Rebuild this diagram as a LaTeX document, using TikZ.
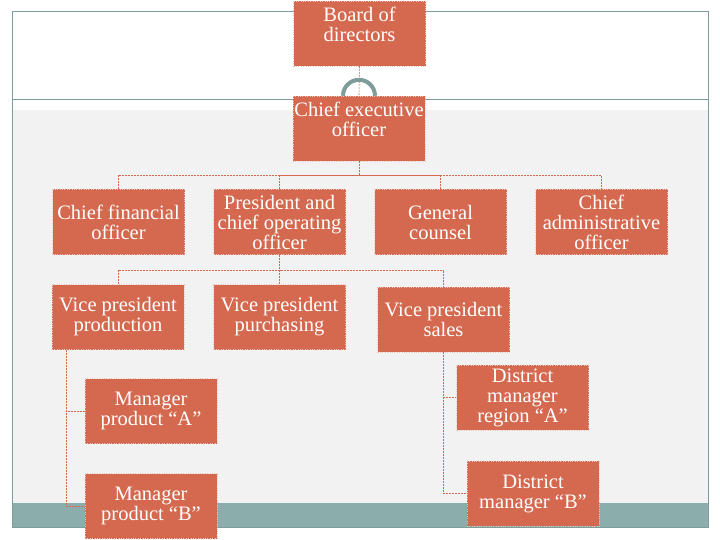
\documentclass[tikz,border=0pt]{standalone}
\usepackage{fontspec}
\setmainfont{Liberation Serif}
\usetikzlibrary{positioning,calc}
\definecolor{boxfill}{HTML}{D5694F}
\definecolor{frameteal}{HTML}{7E9C9A}
\definecolor{bandteal}{HTML}{8BADAB}
\definecolor{panelgray}{HTML}{F2F2F2}

\begin{document}
\begin{tikzpicture}[x=1pt, y=-1pt,
    orgbox/.style={draw=boxfill!40!white, dotted, fill=boxfill, text=white,
      minimum width=132pt, minimum height=65pt, align=center, inner sep=1pt,
      font=\fontsize{20.5}{20}\selectfont},
    topbox/.style={orgbox, text depth=18pt},
    link/.style={draw=boxfill, dash pattern=on 2pt off 1pt, line width=0.6pt}]
    % slide background
    \useasboundingbox (0,0) rectangle (720,540);
    \fill[panelgray] (12,110) rectangle (708,503);
    \fill[bandteal] (12,503) rectangle (708,527);
    \draw[frameteal, line width=1pt] (12,12) rectangle (708,527);
    \draw[frameteal, line width=1pt] (12,100) -- (708,100);

    % boxes
    \node[topbox] (board) at (359.5,33.5) {Board of\\directors};
    \node[topbox] (ceo) at (359,128.5) {Chief executive\\officer};
    \node[orgbox] (cfo) at (118.5,222) {Chief financial\\officer};
    \node[orgbox] (pres) at (279.5,222) {President and\\chief operating\\officer};
    \node[orgbox] (gc) at (440.5,222) {General\\counsel};
    \node[orgbox] (cao) at (601.5,222) {Chief\\administrative\\officer};
    \node[orgbox] (vpprod) at (118,317) {Vice president\\production};
    \node[orgbox] (vppur) at (279.5,317) {Vice president\\purchasing};
    \node[orgbox] (vpsales) at (443.5,319.5) {Vice president\\sales};
    \node[orgbox] (mgra) at (151,411) {Manager\\product “A”};
    \node[orgbox] (mgrb) at (151,506) {Manager\\product “B”};
    \node[orgbox] (dista) at (522.5,397.5) {District\\manager\\region “A”};
    \node[orgbox] (distb) at (533,493.5) {District\\manager “B”};

    % connectors
    \draw[link] (board.south) -- (ceo.north);
    \draw[bandteal!90!black, line width=4pt] ($(ceo.north)+(-16,0)$)
      arc[start angle=180, end angle=0, radius=16pt];
    \coordinate (bus1) at ($(ceo.south)+(0,14)$);
    \draw[link] (ceo.south) -- (bus1);
    \draw[link] (cfo.north) |- (bus1) -| (cao.north);
    \draw[link] (pres.north) |- (bus1);
    \draw[link] (gc.north) |- (bus1);
    \coordinate (bus2) at ($(pres.south)+(0,16)$);
    \draw[link] (pres.south) -- (bus2);
    \draw[link] (vpprod.north) |- (bus2) -| (vpsales.north);
    \draw[link] (vppur.north) -- (bus2);
    \draw[link] ($(vpprod.south west)+(14,0)$) |- (mgra.west);
    \draw[link] ($(vpprod.south west)+(14,0)$) |- (mgrb.west);
    \draw[link] (vpsales.south) |- (dista.west);
    \draw[link] (vpsales.south) |- (distb.west);
\end{tikzpicture}
\end{document}
